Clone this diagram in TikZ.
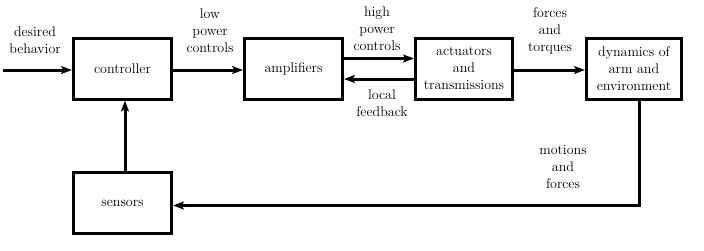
\documentclass[tikz,border=0pt]{standalone}
\usetikzlibrary{arrows.meta,calc}
\begin{document}
\begin{tikzpicture}[x=1pt,y=-1pt,
  blk/.style={draw,line width=3pt,minimum height=61pt,align=center,inner sep=0pt,font=\fontsize{14}{17}\selectfont},
  lbl/.style={align=center,inner sep=0pt,font=\fontsize{14}{17}\selectfont},
  con/.style={line width=3pt,-{Stealth[length=11pt,width=8pt,inset=2.5pt]}}]
\useasboundingbox (0,0) rectangle (704,250);
\node[blk,minimum width=98pt] (ctrl) at (122.5,68.5) {controller};
\node[blk,minimum width=98pt] (amp) at (293.5,68.5) {amplifiers};
\node[blk,minimum width=97pt] (act) at (464,68.5) {actuators\\and\\transmissions};
\node[blk,minimum width=95pt] (dyn) at (634,68.5) {dynamics of\\arm and\\environment};
\node[blk,minimum width=98pt,minimum height=61pt] (sens) at (122.5,203) {sensors};
\coordinate (in) at (3,70);
\coordinate (fb) at (639,0);
\coordinate (up) at (125,0);
\draw[con] (in) -- (in -| ctrl.west);
\draw[con] (ctrl.east |- in) -- (amp.west |- in);
\draw[con] (amp.east |- 0,58.5) -- (act.west |- 0,58.5);
\draw[con] (act.west |- 0,79) -- (amp.east |- 0,79);
\draw[con] (act.east |- in) -- (dyn.west |- in);
\draw[con] (dyn.south -| fb) |- ([yshift=-2.5pt]sens.east);
\draw[con] (sens.north -| up) -- (ctrl.south -| up);
\node[lbl] (l1) at (35,40) {desired\\behavior};
\node[lbl] (l2) at (210,31) {low\\power\\controls};
\node[lbl] (l3) at (377,29) {high\\power\\controls};
\node[lbl] (l4) at (382,103.5) {local\\feedback};
\node[lbl] (l5) at (550,31) {forces\\and\\torques};
\node[lbl] (l6) at (563,167) {motions\\and\\forces};
\end{tikzpicture}
\end{document}
